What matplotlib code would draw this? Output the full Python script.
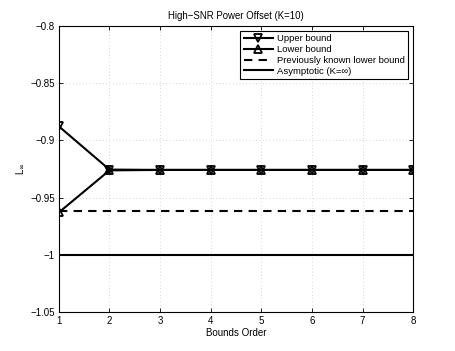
import matplotlib
matplotlib.use("Agg")
import matplotlib.pyplot as plt
import numpy as np

# bounds order on the x axis
order = [1, 2, 3, 4, 5, 6, 7, 8]
# high-SNR power offset bounds
upper = [-0.8877, -0.9255, -0.9258, -0.9258, -0.9258, -0.9258, -0.9258, -0.9258]
lower = [-0.9630, -0.9262, -0.9258, -0.9258, -0.9258, -0.9258, -0.9258, -0.9258]
prev_lower = -0.962
asymptotic = -1.0

yticks = [-0.8, -0.85, -0.9, -0.95, -1.0, -1.05]
ytick_labels = ["\u22120.8", "\u22120.85", "\u22120.9", "\u22120.95", "\u22121", "\u22121.05"]

plt.rcParams["font.family"] = ["Liberation Sans", "DejaVu Sans"]
plt.rcParams["font.size"] = 7

fig = plt.figure(figsize=(4.56, 3.51), dpi=100)
ax = fig.add_axes([0.129, 0.111, 0.777, 0.815])

ax.plot(order, upper, color="k", lw=1.5, marker="v", ms=5.5, mfc="none", mew=1.3,
        label="Upper bound")
ax.plot(order, lower, color="k", lw=1.5, marker="^", ms=5.5, mfc="none", mew=1.3,
        label="Lower bound")
ax.axhline(prev_lower, color="k", lw=1.5, ls=(0, (4, 3)), label="Previously known lower bound")
ax.axhline(asymptotic, color="k", lw=1.5, label="Asymptotic (K=\u221e)")

ax.set_xlim(1, 8)
ax.set_ylim(-1.05, -0.8)
ax.set_xticks(order)
ax.set_yticks(yticks)
ax.set_yticklabels(ytick_labels)
ax.grid(True, color="#c8c8c8", ls=(0, (1, 3)), lw=0.6)
ax.tick_params(direction="in", length=3, width=0.6, labelsize=7, pad=3,
               top=True, right=True)
for s in ax.spines.values():
    s.set_linewidth(0.8)

ax.set_title("High\u2212SNR Power Offset (K=10)", fontsize=6.9, pad=5)
ax.set_xlabel("Bounds Order", fontsize=7, labelpad=1)
ax.set_ylabel("L$_\\infty$", fontsize=7, labelpad=3)

leg = ax.legend(loc="upper right", fontsize=6.8, handlelength=3.1, handletextpad=0.4,
                borderpad=0.4, labelspacing=0.18, fancybox=False, framealpha=1,
                borderaxespad=0.5)
leg.get_frame().set_edgecolor("k")
leg.get_frame().set_linewidth(0.8)

fig.savefig("out.png", dpi=100)
